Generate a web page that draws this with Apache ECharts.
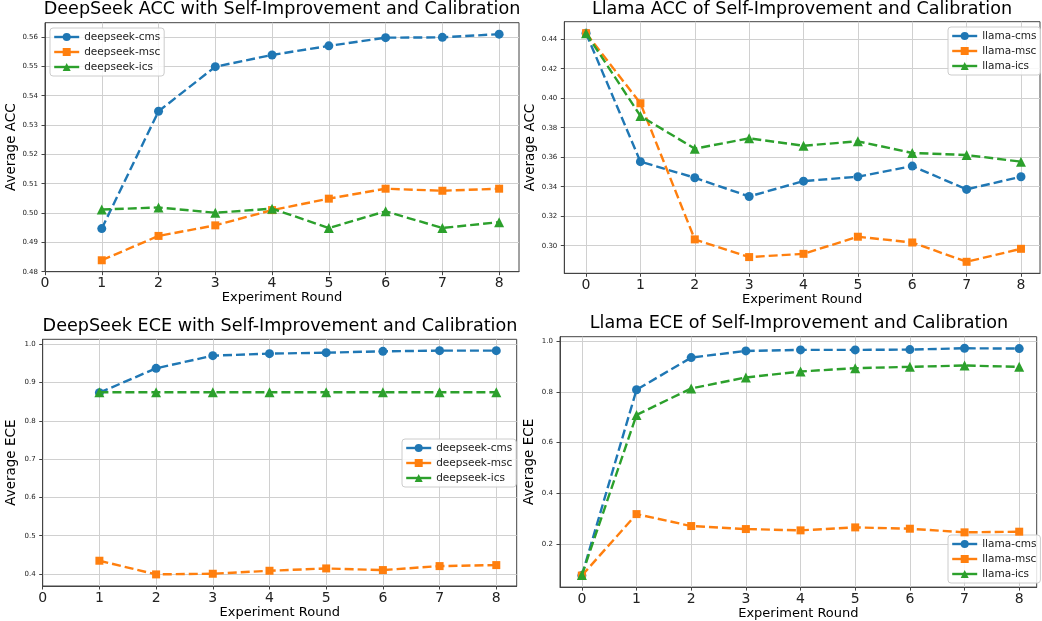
<!DOCTYPE html>
<html>
<head>
<meta charset="utf-8">
<script src="https://cdn.jsdelivr.net/npm/echarts@6/dist/echarts.min.js"></script>
<style>html,body{margin:0;padding:0;background:#fff;}#c{width:1042px;height:621px;}</style>
</head>
<body>
<div id="c"></div>
<script>
// ---------- data ----------
const roundsDS = [1, 2, 3, 4, 5, 6, 7, 8];
const roundsLL = [0, 1, 2, 3, 4, 5, 6, 7, 8];
const xTicks = [0, 1, 2, 3, 4, 5, 6, 7, 8];

const dsAccCms = [0.4947, 0.5347, 0.5499, 0.5539, 0.5570, 0.5598, 0.5599, 0.5610];
const dsAccMsc = [0.4839, 0.4922, 0.4958, 0.5010, 0.5049, 0.5083, 0.5076, 0.5083];
const dsAccIcs = [0.5012, 0.5019, 0.5001, 0.5015, 0.4949, 0.5006, 0.4949, 0.4969];

const llAccCms = [0.4441, 0.3570, 0.3461, 0.3334, 0.3438, 0.3468, 0.3540, 0.3382, 0.3468];
const llAccMsc = [0.4441, 0.3966, 0.3043, 0.2923, 0.2945, 0.3061, 0.3022, 0.2891, 0.2979];
const llAccIcs = [0.4441, 0.3880, 0.3658, 0.3728, 0.3678, 0.3708, 0.3629, 0.3615, 0.3570];

const dsEceCms = [0.8737, 0.9373, 0.9704, 0.9756, 0.9782, 0.9817, 0.9834, 0.9834];
const dsEceMsc = [0.4347, 0.3990, 0.4007, 0.4085, 0.4146, 0.4103, 0.4207, 0.4233];
const dsEceIcs = [0.8746, 0.8746, 0.8746, 0.8746, 0.8746, 0.8746, 0.8746, 0.8746];

const llEceCms = [0.0773, 0.8082, 0.9347, 0.9608, 0.9648, 0.9648, 0.9661, 0.9713, 0.9700];
const llEceMsc = [0.0770, 0.3188, 0.2718, 0.2600, 0.2548, 0.2665, 0.2613, 0.2470, 0.2496];
const llEceIcs = [0.0790, 0.7090, 0.8134, 0.8564, 0.8799, 0.8930, 0.8982, 0.9034, 0.8982];

const yTicksDsAcc = [0.48, 0.49, 0.50, 0.51, 0.52, 0.53, 0.54, 0.55, 0.56];
const yTicksLlAcc = [0.30, 0.32, 0.34, 0.36, 0.38, 0.40, 0.42, 0.44];
const yTicksDsEce = [0.4, 0.5, 0.6, 0.7, 0.8, 0.9, 1.0];
const yTicksLlEce = [0.2, 0.4, 0.6, 0.8, 1.0];

const titles = [
  'DeepSeek ACC with Self-Improvement and Calibration',
  'Llama ACC of Self-Improvement and Calibration',
  'DeepSeek ECE with Self-Improvement and Calibration',
  'Llama ECE of Self-Improvement and Calibration'
];
const namesDS = ['deepseek-cms', 'deepseek-msc', 'deepseek-ics'];
const namesLL = ['llama-cms', 'llama-msc', 'llama-ics'];

// ---------- styling ----------
const FONT = 'DejaVu Sans';
const colors = ['#1f77b4', '#ff7f0e', '#2ca02c'];
const symbols = ['circle', 'rect', 'triangle'];
const symbolSizes = [9, 8, 10];
const frame = '#444';
const gridColor = '#d0d0d0';

const grids = [
  {left: 45, top: 22.7, width: 474, height: 249},
  {left: 564.3, top: 21.7, width: 475.7, height: 251.6},
  {left: 42.7, top: 339.3, width: 474, height: 246.7},
  {left: 560, top: 336.7, width: 476.7, height: 251.6}
];
const xRanges = [[0, 8.35], [-0.4, 8.35], [0, 8.36], [-0.4, 8.32]];
const yRanges = [[0.48, 0.5649], [0.2813, 0.4519], [0.3687, 1.0131], [0.0316, 1.0168]];
const yTickSets = [yTicksDsAcc, yTicksLlAcc, yTicksDsEce, yTicksLlEce];
const yDigits = [2, 2, 1, 1];
const yNames = ['Average ACC', 'Average ACC', 'Average ECE', 'Average ECE'];
const titlePos = [[282, 0], [802, 0], [280, 317], [799, 314]];
const legendPos = [
  {left: 50, top: 28},
  {left: 948, top: 27},
  {left: 402, top: 439},
  {left: 948, top: 535}
];

const panelSeries = [
  {x: roundsDS, names: namesDS, ys: [dsAccCms, dsAccMsc, dsAccIcs]},
  {x: roundsLL, names: namesLL, ys: [llAccCms, llAccMsc, llAccIcs]},
  {x: roundsDS, names: namesDS, ys: [dsEceCms, dsEceMsc, dsEceIcs]},
  {x: roundsLL, names: namesLL, ys: [llEceCms, llEceMsc, llEceIcs]}
];

const option = {
  backgroundColor: '#fff',
  animation: false,
  textStyle: {fontFamily: FONT},
  title: titles.map((t, i) => ({
    text: t, left: titlePos[i][0], top: titlePos[i][1], textAlign: 'center', padding: 0,
    textStyle: {fontFamily: FONT, fontSize: 17.6, fontWeight: 'normal', color: '#000'}
  })),
  grid: grids.map(g => Object.assign({show: true, borderColor: frame, borderWidth: 1, backgroundColor: 'transparent'}, g)),
  xAxis: grids.map((g, i) => ({
    type: 'value', gridIndex: i, min: xRanges[i][0], max: xRanges[i][1],
    name: 'Experiment Round', nameLocation: 'middle', nameGap: 19,
    nameTextStyle: {fontFamily: FONT, fontSize: 13, color: '#000'},
    axisLine: {show: true, onZero: false, lineStyle: {color: frame, width: 1}},
    axisTick: {show: true, length: 3.5, customValues: xTicks, lineStyle: {color: frame}},
    axisLabel: {customValues: xTicks, fontFamily: FONT, fontSize: 14, color: '#222', margin: 5},
    splitLine: {show: true, lineStyle: {color: gridColor, width: 1}}
  })),
  yAxis: grids.map((g, i) => ({
    type: 'value', gridIndex: i, min: yRanges[i][0], max: yRanges[i][1],
    name: yNames[i], nameLocation: 'middle', nameGap: 24,
    nameTextStyle: {fontFamily: FONT, fontSize: 13.5, color: '#000'},
    axisLine: {show: true, onZero: false, lineStyle: {color: frame, width: 1}},
    axisTick: {show: true, length: 3.5, customValues: yTickSets[i], lineStyle: {color: frame}},
    axisLabel: {customValues: yTickSets[i], fontFamily: FONT, fontSize: 7, color: '#222', margin: 7,
      formatter: v => Number(v).toFixed(yDigits[i])},
    splitLine: {show: true, lineStyle: {color: gridColor, width: 1}}
  })),
  legend: panelSeries.map((p, i) => ({
    data: p.names, orient: 'vertical', left: legendPos[i].left, top: legendPos[i].top,
    padding: [3, 4, 3, 3], itemGap: 3, itemWidth: 25, itemHeight: 10,
    backgroundColor: 'rgba(255,255,255,0.85)', borderColor: '#cccccc', borderWidth: 1, borderRadius: 3,
    textStyle: {fontFamily: FONT, fontSize: 10.5, color: '#222', lineHeight: 12, padding: [0, 0, 0, 0]},
    lineStyle: {type: 'solid', width: 2.4},
    selectedMode: false
  })),
  series: []
};

panelSeries.forEach((p, i) => {
  p.ys.forEach((ys, k) => {
    option.series.push({
      type: 'line', name: p.names[k], xAxisIndex: i, yAxisIndex: i,
      data: p.x.map((x, j) => [x, ys[j]]),
      symbol: symbols[k], symbolSize: symbolSizes[k], showSymbol: true,
      lineStyle: {color: colors[k], width: 2.4, type: [9, 4]},
      itemStyle: {color: colors[k]},
      emphasis: {disabled: true},
      z: 3 + k
    });
  });
});

const chart = echarts.init(document.getElementById('c'), null, {renderer: 'canvas'});
chart.setOption(option);
</script>
</body>
</html>
